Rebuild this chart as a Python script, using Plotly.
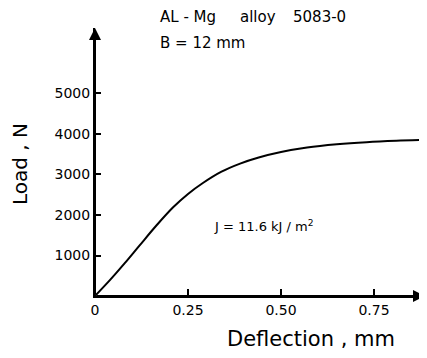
import plotly.graph_objects as go

# Data
deflection = [0, 0.04, 0.08, 0.12, 0.165, 0.21, 0.25, 0.29, 0.34, 0.39,
              0.44, 0.50, 0.57, 0.65, 0.73, 0.81, 0.885]
load = [0, 390, 810, 1250, 1740, 2190, 2520, 2790, 3070, 3270,
        3420, 3555, 3665, 3745, 3798, 3832, 3852]

x_tickvals = [0, 0.25, 0.5, 0.75]
x_ticktext = ["0", "0.25", "0.50", "0.75"]
y_tickvals = [1000, 2000, 3000, 4000, 5000]
y_ticktext = ["1000", "2000", "3000", "4000", "5000"]

XMAX = 0.887
YMAX = 6617
FONT = "DejaVu Sans"
OFF = 8  # page body margin offset

layout_w, layout_h = 427 - OFF, 358 - OFF
ml, mr, mt, mb = 95 - OFF, 2, 28 - OFF, 62


def px_to_paper(px, py):
    px -= OFF
    py -= OFF
    return (px - ml) / (layout_w - ml - mr), 1 - (py - mt) / (layout_h - mt - mb)


fig = go.Figure()
fig.add_trace(go.Scatter(
    x=deflection, y=load, mode="lines",
    line=dict(color="black", width=2, shape="spline", smoothing=1.0),
    cliponaxis=False, showlegend=False, hoverinfo="skip"))

fig.update_xaxes(range=[0, XMAX], tickvals=x_tickvals, ticktext=x_ticktext,
                 showgrid=False, zeroline=False, showline=True,
                 linecolor="black", linewidth=2, ticks="inside", ticklen=7,
                 tickwidth=2, tickcolor="black",
                 tickfont=dict(family=FONT, size=14, color="black"))
fig.update_yaxes(range=[0, YMAX], tickvals=y_tickvals, ticktext=y_ticktext,
                 showgrid=False, zeroline=False, showline=True,
                 linecolor="black", linewidth=2, ticks="inside", ticklen=6,
                 tickwidth=2, tickcolor="black",
                 tickfont=dict(family=FONT, size=14, color="black"))

# axis arrowheads
fig.add_annotation(x=XMAX, y=0, ax=0, ay=0, xref="x", yref="y", axref="x", ayref="y",
                   showarrow=True, arrowhead=2, arrowsize=1.2, arrowwidth=2,
                   arrowcolor="black", text="")
fig.add_annotation(x=0, y=YMAX, ax=0, ay=0, xref="x", yref="y", axref="x", ayref="y",
                   showarrow=True, arrowhead=2, arrowsize=1.2, arrowwidth=2,
                   arrowcolor="black", text="")

# axis titles
x, y = px_to_paper(311, 339)
fig.add_annotation(text="Deflection , mm", x=x, y=y, xref="paper", yref="paper",
                   xanchor="center", yanchor="middle", showarrow=False,
                   font=dict(family=FONT, size=21, color="black"))
x, y = px_to_paper(20, 164)
fig.add_annotation(text="Load , N", x=x, y=y, xref="paper", yref="paper",
                   xanchor="center", yanchor="middle", showarrow=False, textangle=-90,
                   font=dict(family=FONT, size=20, color="black"))

# header text
for txt, px, py in [("AL - Mg", 158, 17), ("alloy", 238, 17), ("5083-0", 291, 17),
                    ("B = 12 mm", 158, 43)]:
    x, y = px_to_paper(px, py)
    fig.add_annotation(text=txt, x=x, y=y, xref="paper", yref="paper",
                       xanchor="left", yanchor="middle", showarrow=False,
                       font=dict(family=FONT, size=15, color="black"))

x, y = px_to_paper(212, 226)
fig.add_annotation(text="J = 11.6 kJ / m<sup>2</sup>", x=x, y=y, xref="paper", yref="paper",
                   xanchor="left", yanchor="middle", showarrow=False,
                   font=dict(family=FONT, size=13, color="black"))

fig.update_layout(width=layout_w, height=layout_h,
                  margin=dict(l=ml, r=mr, t=mt, b=mb),
                  paper_bgcolor="white", plot_bgcolor="white")

fig.write_html("out.html")
